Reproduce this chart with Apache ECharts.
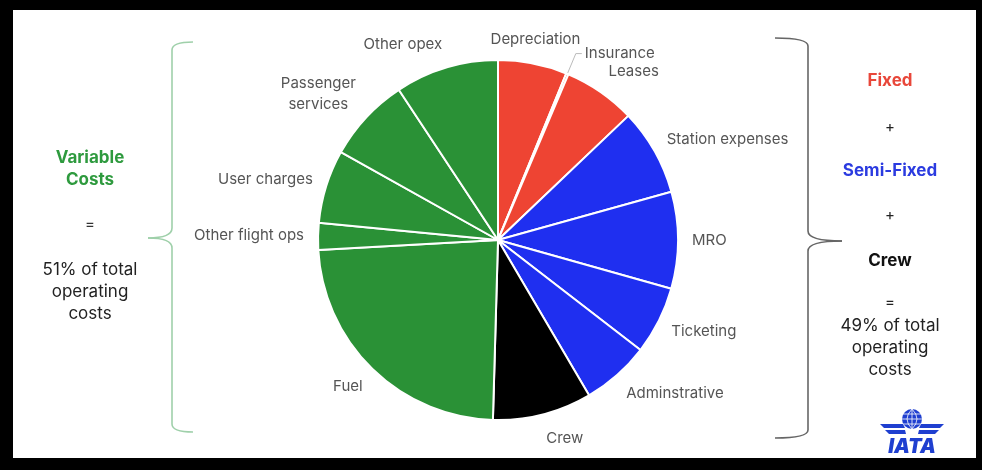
<!DOCTYPE html>
<html>
<head>
<meta charset="utf-8">
<script src="https://cdn.jsdelivr.net/npm/echarts@6/dist/echarts.min.js"></script>
<style>
html,body{margin:0;padding:0;background:#000;}
#chart{width:982px;height:470px;}
</style>
</head>
<body>
<div id="chart"></div>
<script>
// ---- data ----
const categories = ['Depreciation','Insurance','Leases','Station expenses','MRO','Ticketing','Adminstrative','Crew','Fuel','Other flight ops','User charges','Passenger\nservices','Other opex'];
const shares = [6.2, 0.2, 6.5, 7.8, 8.7, 6.1, 6.1, 8.9, 23.7, 2.4, 6.6, 7.6, 9.3];
const groups = ['fixed','fixed','fixed','semi','semi','semi','semi','crew','variable','variable','variable','variable','variable'];
const leftText = ['Variable\nCosts', '=', '51% of total\noperating\ncosts'];
const rightText = ['Fixed', '+', 'Semi-Fixed', '+', 'Crew', '=', '49% of total\noperating\ncosts'];

// ---- style ----
const groupColors = {fixed:'#ee4433', semi:'#1f2ff0', crew:'#000000', variable:'#2a9136'};
const CX = 498, CY = 240, R = 180, GAP = 14;
const FONT = 'Inter, "Noto Sans", sans-serif';

const total = shares.reduce((a,b)=>a+b,0);
let cum = 0;
const mids = shares.map(v => { const m = (cum + v/2) / total * 2 * Math.PI; cum += v; return m; });

const chart = echarts.init(document.getElementById('chart'));

function textEl(x, y, txt, style) {
  return {type:'text', x:x, y:y, style:Object.assign({text:txt, align:'center', verticalAlign:'middle', font:'400 16px ' + FONT, fill:'#222', lineHeight:22}, style)};
}
// brace built from line + quadratic curve pieces
function brace(xv, xEnd, xTip, yTop, yMid, yBot, color) {
  const st = {stroke:color, lineWidth:1.6, fill:null};
  const k = xEnd > xv ? 1 : -1;
  return [
    {type:'bezierCurve', shape:{x1:xEnd, y1:yTop, x2:xv, y2:yTop+8, cpx1:xv, cpy1:yTop}, style:st},
    {type:'line', shape:{x1:xv, y1:yTop+8, x2:xv, y2:yMid-10}, style:st},
    {type:'bezierCurve', shape:{x1:xv, y1:yMid-10, x2:xTip, y2:yMid, cpx1:xv, cpy1:yMid}, style:st},
    {type:'bezierCurve', shape:{x1:xTip, y1:yMid, x2:xv, y2:yMid+10, cpx1:xv, cpy1:yMid}, style:st},
    {type:'line', shape:{x1:xv, y1:yMid+10, x2:xv, y2:yBot-8}, style:st},
    {type:'bezierCurve', shape:{x1:xv, y1:yBot-8, x2:xEnd, y2:yBot, cpx1:xv, cpy1:yBot}, style:st}
  ];
}

const option = {
  backgroundColor: '#000',
  animation: false,
  graphic: [
    {type:'rect', shape:{x:13, y:10, width:963, height:448}, style:{fill:'#fff'}, z:-10, silent:true}]
    .concat(brace(172, 193, 148, 42, 238, 432, '#9fd0aa'))
    .concat(brace(808, 775, 842, 38, 241, 438, '#666'))
    .concat([
    textEl(90, 169, leftText[0], {font:'700 17px ' + FONT, fill:'#2e9a3e'}),
    textEl(90, 224, leftText[1], {font:'400 15px ' + FONT, fill:'#333'}),
    textEl(90, 292, leftText[2], {font:'400 17px ' + FONT, fill:'#222'}),
    textEl(890, 81, rightText[0], {font:'700 17px ' + FONT, fill:'#e8473a'}),
    textEl(890, 127, rightText[1], {font:'400 15px ' + FONT, fill:'#222'}),
    textEl(890, 171, rightText[2], {font:'700 17px ' + FONT, fill:'#2b3be0'}),
    textEl(890, 215, rightText[3], {font:'400 15px ' + FONT, fill:'#222'}),
    textEl(890, 261, rightText[4], {font:'700 17px ' + FONT, fill:'#111'}),
    textEl(890, 302, rightText[5], {font:'400 15px ' + FONT, fill:'#222'}),
    textEl(890, 348, rightText[6], {font:'400 17px ' + FONT, fill:'#222'}),
    // IATA logo
    {type:'circle', shape:{cx:912, cy:419, r:10}, style:{fill:'#1f3fd0'}},
    {type:'line', shape:{x1:902, y1:419, x2:922, y2:419}, style:{stroke:'#fff', lineWidth:0.8}},
    {type:'line', shape:{x1:903, y1:414, x2:921, y2:414}, style:{stroke:'#fff', lineWidth:0.8}},
    {type:'line', shape:{x1:903, y1:424, x2:921, y2:424}, style:{stroke:'#fff', lineWidth:0.8}},
    {type:'line', shape:{x1:912, y1:409, x2:912, y2:429}, style:{stroke:'#fff', lineWidth:0.8}},
    {type:'bezierCurve', shape:{x1:912, y1:409, x2:912, y2:429, cpx1:902, cpy1:419}, style:{stroke:'#fff', lineWidth:0.8, fill:null}},
    {type:'bezierCurve', shape:{x1:912, y1:409, x2:912, y2:429, cpx1:922, cpy1:419}, style:{stroke:'#fff', lineWidth:0.8, fill:null}},
    {type:'polygon', shape:{points:[[880,424],[903,424],[905,428],[884,428]]}, style:{fill:'#1f3fd0'}},
    {type:'polygon', shape:{points:[[885,430],[905,430],[906,434],[889,434]]}, style:{fill:'#1f3fd0'}},
    {type:'polygon', shape:{points:[[944,424],[921,424],[919,428],[940,428]]}, style:{fill:'#1f3fd0'}},
    {type:'polygon', shape:{points:[[939,430],[919,430],[918,434],[935,434]]}, style:{fill:'#1f3fd0'}},
    textEl(912, 447, 'IATA', {font:'italic 900 20px ' + FONT, fill:'#1f3fd0'})
  ]),
  series: [{
    type: 'pie',
    center: [CX, CY],
    radius: [0, R],
    startAngle: 90,
    clockwise: true,
    avoidLabelOverlap: false,
    itemStyle: {borderColor:'#fff', borderWidth:2},
    label: {show:true, position:'outside', fontFamily:FONT, fontSize:15, color:'#555', lineHeight:21},
    labelLine: {show:false},
    emphasis: {disabled:true},
    data: categories.map((c,i) => ({
      name: c,
      value: shares[i],
      itemStyle: {color: groupColors[groups[i]]},
      labelLine: c === 'Insurance' ? {show:true, lineStyle:{color:'#bbb', width:1}} : {show:false}
    })),
    labelLayout: function (p) {
      const i = p.dataIndex;
      const th = mids[i];
      const s = Math.sin(th), c = Math.cos(th);
      const w = p.labelRect.width, h = p.labelRect.height;
      if (categories[i] === 'Insurance') {
        const p1 = [CX + R*s, CY - R*c];
        const p2 = [CX + (R+22)*s, CY - (R+22)*c];
        const p3 = [p2[0] + 6, p2[1]];
        return {x: p3[0] + 3, y: p3[1], align:'left', verticalAlign:'middle', labelLinePoints:[p1,p2,p3]};
      }
      const ax = CX + (R+GAP)*s, ay = CY - (R+GAP)*c;
      const x = ax + (Math.abs(s) < 0.22 ? 0 : Math.sign(s)*w/2);
      const y = ay - c*h/2;
      return {x:x, y:y, align:'center', verticalAlign:'middle'};
    }
  }]
};
chart.setOption(option);
</script>
</body>
</html>
